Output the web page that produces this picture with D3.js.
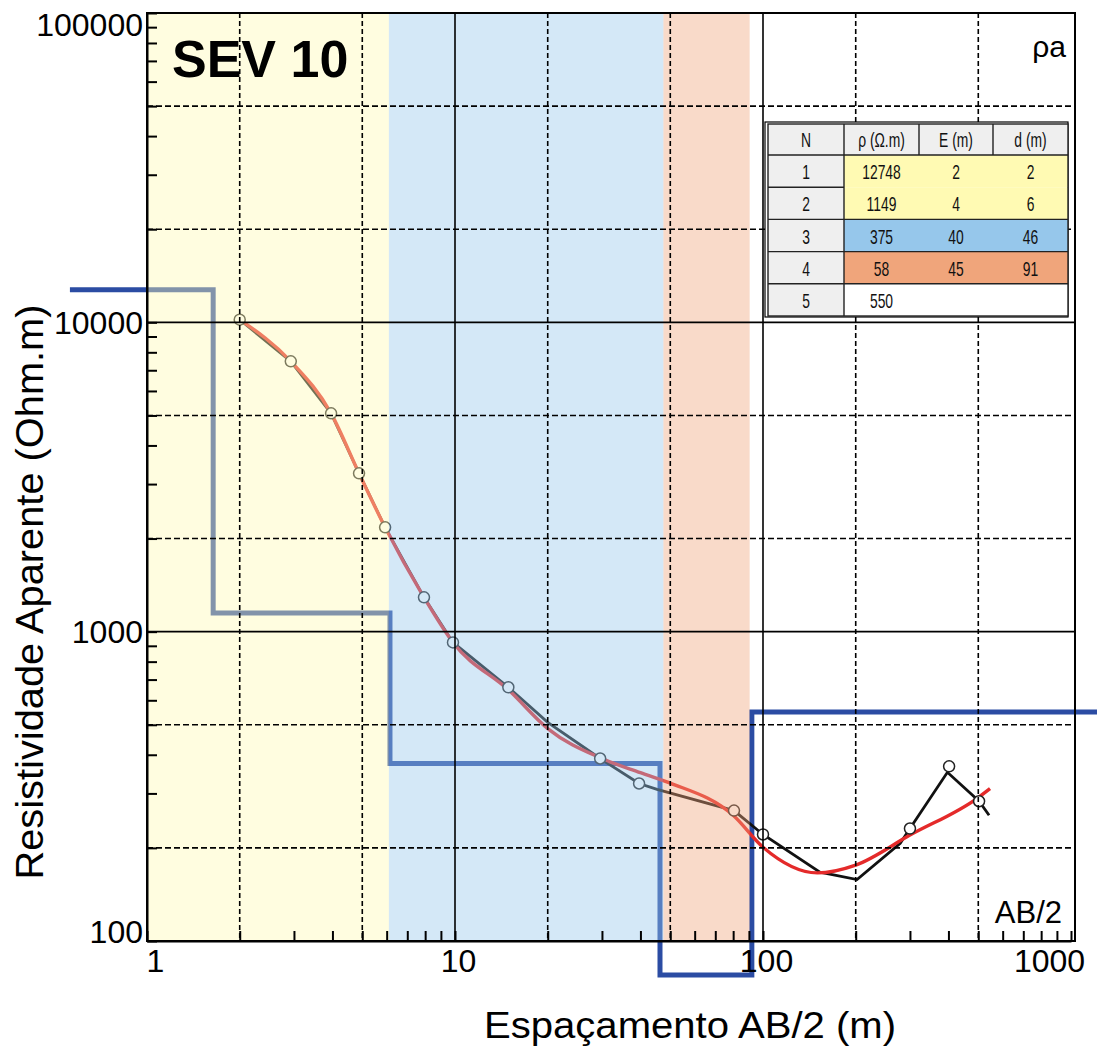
<!DOCTYPE html>
<html>
<head>
<meta charset="utf-8">
<script src="https://cdn.jsdelivr.net/npm/d3@7"></script>
<style>
body { margin: 0; background: #fff; }
svg { display: block; font-family: "Liberation Sans", Arial, sans-serif; }
</style>
</head>
<body>
<svg id="chart" width="1097" height="1051"></svg>
<script>
// field measurements (circles)
const obsAB  = [2, 2.93, 3.96, 4.88, 5.93, 7.93, 9.85, 14.9, 29.6, 39.6, 80.5, 100, 300, 402, 503];
const obsRho = [10200, 7480, 5080, 3250, 2174, 1291, 923, 661, 389, 323, 264, 221, 231, 367, 283];

// black field curve
const fieldAB  = [2, 2.93, 3.96, 4.88, 5.93, 7.93, 9.85, 14.9, 20, 29.6, 39.6, 45.3, 80.5, 100, 153, 202, 279, 300, 397, 503, 542];
const fieldRho = [10200, 7480, 5080, 3250, 2174, 1291, 923, 661, 509, 389, 323, 309, 264, 221, 167, 158, 207, 231, 351, 283, 255];

// red model curve
const fitAB  = [2, 2.93, 3.96, 4.88, 5.93, 7.93, 9.85, 15, 20, 30, 40, 50, 80, 100, 150, 200, 300, 500, 546];
const fitRho = [10200, 7480, 5080, 3250, 2174, 1291, 923, 645, 486, 389, 350, 324, 255, 201, 166, 176, 220, 291, 311];

// layered model (blue steps)
const stepAB  = [0.562, 1.64, 6.15, 46.3, 92, 1250];
const stepRho = [12748, 1149, 375, 77.6, 550, 550];

// shaded layers
const bandFrom = [1, 6.1, 47.5];
const bandTo   = [6.1, 47.5, 90.5];

// table
const tableHead = ['N', 'ρ (Ω.m)', 'E (m)', 'd (m)'];
const layerN   = [1, 2, 3, 4, 5];
const layerRho = [12748, 1149, 375, 58, 550];
const layerE   = [2, 4, 40, 45, ''];
const layerD   = [2, 6, 46, 91, ''];

// grid and ticks
const xSolid  = [10, 100];
const xDashed = [2, 5, 20, 50, 200, 500];
const ySolid  = [1000, 10000];
const yDashed = [200, 500, 2000, 5000, 20000, 50000];
const xLabels = [1, 10, 100, 1000];
const yLabels = [100, 1000, 10000, 100000];

const layerColors = ['#fffab3', '#96c7eb', '#f0a57b'];
const rowColors = ['#fffab3', '#fffab3', '#96c7eb', '#f0a57b', '#ffffff'];

const svg = d3.select('#chart');
const x = d3.scaleLog().domain([1, 1000]).range([147, 1071]);
const y = d3.scaleLog().domain([100, 100000]).range([941, 13]);
const pLeft = x(1), pRight = 1075, pTop = y(100000), pBottom = y(100);

svg.append('rect').attr('width', 1097).attr('height', 1051).attr('fill', '#fff');

// model steps
const stepLine = d3.line().x(d => x(d[0])).y(d => y(d[1])).curve(d3.curveStepAfter);
svg.append('path')
	.datum(d3.zip(stepAB, stepRho))
	.attr('d', stepLine)
	.attr('fill', 'none')
	.attr('stroke', '#2b4ca3')
	.attr('stroke-width', 5);

const line = d3.line().x(d => x(d[0])).y(d => y(d[1]));

svg.append('path')
	.datum(d3.zip(fieldAB, fieldRho))
	.attr('d', line)
	.attr('fill', 'none')
	.attr('stroke', '#111')
	.attr('stroke-width', 2.8);

svg.append('path')
	.datum(d3.zip(fitAB, fitRho))
	.attr('d', line.curve(d3.curveMonotoneX))
	.attr('fill', 'none')
	.attr('stroke', '#e42a2a')
	.attr('stroke-width', 3.4);

svg.append('g')
	.selectAll('circle')
	.data(d3.zip(obsAB, obsRho))
	.enter()
	.append('circle')
	.attr('cx', d => x(d[0]))
	.attr('cy', d => y(d[1]))
	.attr('r', 5.5)
	.attr('fill', '#fff')
	.attr('stroke', '#222')
	.attr('stroke-width', 1.5);

// translucent layer bands over the curves
svg.append('g')
	.selectAll('rect')
	.data(d3.range(bandFrom.length))
	.enter()
	.append('rect')
	.attr('x', i => x(bandFrom[i]))
	.attr('width', i => x(bandTo[i]) - x(bandFrom[i]))
	.attr('y', pTop)
	.attr('height', pBottom - pTop)
	.attr('fill', i => layerColors[i])
	.attr('opacity', 0.41);

// grid
const grid = svg.append('g').attr('stroke', '#000');
grid.selectAll('.vs').data(xSolid).enter().append('line')
	.attr('x1', d => x(d)).attr('x2', d => x(d)).attr('y1', pTop).attr('y2', pBottom)
	.attr('stroke-width', 1.6);
grid.selectAll('.vd').data(xDashed).enter().append('line')
	.attr('x1', d => x(d)).attr('x2', d => x(d)).attr('y1', pTop).attr('y2', pBottom)
	.attr('stroke-width', 1.6).attr('stroke-dasharray', '5,3');
grid.selectAll('.hs').data(ySolid).enter().append('line')
	.attr('y1', d => y(d)).attr('y2', d => y(d)).attr('x1', pLeft).attr('x2', pRight)
	.attr('stroke-width', 1.6);
grid.selectAll('.hd').data(yDashed).enter().append('line')
	.attr('y1', d => y(d)).attr('y2', d => y(d)).attr('x1', pLeft).attr('x2', pRight)
	.attr('stroke-width', 1.6).attr('stroke-dasharray', '6,3');

// minor ticks
svg.append('g')
	.attr('transform', `translate(${pLeft},0)`)
	.call(d3.axisLeft(y).tickValues(y.ticks()).tickSize(-10).tickSizeOuter(0).tickFormat(''))
	.call(g => g.selectAll('line, path').attr('stroke', '#000').attr('stroke-width', 2));
svg.append('g')
	.attr('transform', `translate(0,${pBottom})`)
	.call(d3.axisBottom(x).tickValues(x.ticks().filter(d => d <= 1000)).tickSize(-10).tickSizeOuter(0).tickFormat(''))
	.call(g => g.selectAll('line, path').attr('stroke', '#000').attr('stroke-width', 2));

// tick labels
const yShift = { 100: 1, 1000: 11, 10000: 11, 100000: 22 };
svg.append('g')
	.attr('transform', `translate(${pLeft},0)`)
	.call(d3.axisLeft(y).tickValues(yLabels).tickSize(0).tickPadding(4).tickFormat(d3.format('d')))
	.call(g => g.select('.domain').remove())
	.call(g => g.selectAll('text')
		.attr('font-size', 32).attr('font-family', '"Liberation Sans", Arial, sans-serif')
		.attr('fill', '#000').attr('dy', d => yShift[d]));

const xShift = { 1: 8, 10: 3, 100: 3, 1000: -22 };
svg.append('g')
	.attr('transform', `translate(0,${pBottom})`)
	.call(d3.axisBottom(x).tickValues(xLabels).tickSize(0).tickPadding(8).tickFormat(d3.format('d')))
	.call(g => g.select('.domain').remove())
	.call(g => g.selectAll('text')
		.attr('font-size', 32).attr('font-family', '"Liberation Sans", Arial, sans-serif')
		.attr('fill', '#000').attr('dx', d => xShift[d]));

// frame
svg.append('rect')
	.attr('x', pLeft).attr('y', pTop)
	.attr('width', pRight - pLeft).attr('height', pBottom - pTop)
	.attr('fill', 'none').attr('stroke', '#000').attr('stroke-width', 2);

// texts
svg.append('text').attr('x', 172).attr('y', 77)
	.attr('font-size', 52).attr('font-weight', 'bold').text('SEV 10');
svg.append('text').attr('x', 1066).attr('y', 57).attr('text-anchor', 'end')
	.attr('font-size', 30).text('ρa');
svg.append('text').attr('x', 1062).attr('y', 923).attr('text-anchor', 'end')
	.attr('font-size', 31).text('AB/2');
svg.append('text').attr('x', 690).attr('y', 1038).attr('text-anchor', 'middle')
	.attr('font-size', 37).attr('textLength', 412).attr('lengthAdjust', 'spacingAndGlyphs')
	.text('Espaçamento AB/2 (m)');
svg.append('text').attr('transform', 'translate(43,592) rotate(-90)').attr('text-anchor', 'middle')
	.attr('font-size', 38).attr('textLength', 575).attr('lengthAdjust', 'spacingAndGlyphs')
	.text('Resistividade Aparente (Ohm.m)');

// layer table
const tx = 768, ty = 124, colW = [76, 75, 74, 75], headH = 31, rowH = 32.2;
const colX = [tx];
colW.forEach(w => colX.push(colX[colX.length - 1] + w));
const tW = colX[4] - tx, tH = headH + rowH * layerN.length;
const table = svg.append('g')
	.attr('font-family', '"Liberation Sans", Arial, sans-serif')
	.attr('font-size', 21).attr('fill', '#111');

table.append('rect').attr('x', tx - 3).attr('y', ty - 2).attr('width', tW + 3).attr('height', tH + 3)
	.attr('fill', '#fff').attr('stroke', '#000').attr('stroke-width', 1.2);
table.append('rect').attr('x', tx).attr('y', ty).attr('width', tW).attr('height', headH).attr('fill', '#efefef');
table.append('rect').attr('x', tx).attr('y', ty + headH).attr('width', colW[0]).attr('height', rowH * layerN.length).attr('fill', '#efefef');
table.selectAll('.row').data(rowColors).enter().append('rect')
	.attr('x', colX[1]).attr('y', (d, i) => ty + headH + i * rowH)
	.attr('width', tW - colW[0]).attr('height', rowH).attr('fill', d => d);

const tl = table.append('g').attr('stroke', '#222').attr('stroke-width', 1.4);
tl.append('rect').attr('x', tx).attr('y', ty).attr('width', tW).attr('height', tH).attr('fill', 'none');
tl.append('line').attr('x1', colX[1]).attr('x2', colX[1]).attr('y1', ty).attr('y2', ty + tH);
[2, 3].forEach(c => tl.append('line').attr('x1', colX[c]).attr('x2', colX[c]).attr('y1', ty).attr('y2', ty + headH));
layerN.forEach((n, i) => {
	const yy = ty + headH + i * rowH;
	tl.append('line').attr('x1', tx).attr('x2', i === 1 ? colX[1] : colX[4]).attr('y1', yy).attr('y2', yy);
});

// condensed cell text
const cellText = (cx, cy, v) => table.append('text')
	.attr('transform', `translate(${cx},${cy}) scale(0.66,1)`)
	.attr('text-anchor', 'middle').text(v);

tableHead.forEach((h, c) => cellText((colX[c] + colX[c + 1]) / 2, ty + headH / 2 + 7, h));
layerN.forEach((n, i) => {
	const yy = ty + headH + i * rowH + rowH / 2 + 8;
	[n, layerRho[i], layerE[i], layerD[i]].forEach((v, c) => cellText((colX[c] + colX[c + 1]) / 2, yy, v));
});
</script>
</body>
</html>
